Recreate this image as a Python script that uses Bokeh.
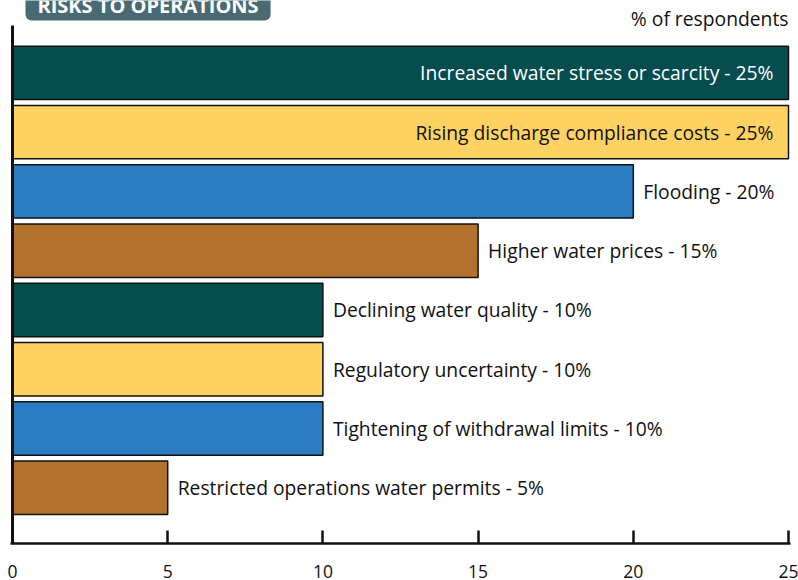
from bokeh.plotting import figure
from bokeh.models import ColumnDataSource, Label, FixedTicker, Range1d
from bokeh.core.properties import value
from bokeh.embed import file_html
from bokeh.resources import INLINE

categories = [
    "Increased water stress or scarcity",
    "Rising discharge compliance costs",
    "Flooding",
    "Higher water prices",
    "Declining water quality",
    "Regulatory uncertainty",
    "Tightening of withdrawal limits",
    "Restricted operations water permits",
]
values = [25, 25, 20, 15, 10, 10, 10, 5]
palette = ["#054d4f", "#fdd262", "#2a7dc2", "#b3722e"]
x_ticks = [0, 5, 10, 15, 20, 25]
x_max = 25

FONT = "Open Sans"
FS = "19.3px"
n = len(categories)
ys = [n - 1 - i for i in range(n)]
colors = [palette[i % 4] for i in range(n)]
labels = [f"{c} - {v}%" for c, v in zip(categories, values)]
inside = [v >= x_max for v in values]
align = ["right" if ins else "left" for ins in inside]
xoff = [-15 if ins else 10 for ins in inside]
tcol = []
for ins, c in zip(inside, colors):
    if ins:
        tcol.append("#ffffff" if c == palette[0] else "#111111")
    else:
        tcol.append("#111111")

src = ColumnDataSource(dict(y=ys, v=values, color=colors, label=labels,
                            align=align, xoff=xoff, tcol=tcol))

W, H = 798, 580
# layout in pixels
X0PX, X1PX = 12, 788          # where 0 and x_max sit
FL, FR = 10, 790              # frame left / right
FB = 543                      # frame bottom (frame top = 0)
xppu = (X1PX - X0PX) / x_max
Y0 = -0.94
yppu = 59.27
Ytop = Y0 + FB / yppu
Yaxis_top = Ytop - 25 / yppu

def px2x(px):
    return (px - X0PX) / xppu

def py2y(py):
    return Ytop - py / yppu

p = figure(width=W, height=H, output_backend="svg", toolbar_location=None,
           title=None,
           x_range=Range1d(px2x(FL), px2x(FR)), y_range=Range1d(Y0, Ytop),
           min_border_left=FL, min_border_right=W - FR, min_border_top=0,
           min_border_bottom=H - FB)
p.outline_line_color = None
p.grid.visible = False
p.background_fill_color = "white"
p.yaxis.visible = False

p.hbar(y="y", right="v", left=0, height=0.9, source=src, fill_color="color",
       line_color="#111111", line_width=1.5)
p.text(x="v", y="y", text="label", source=src, text_align="align",
       x_offset="xoff", text_baseline="middle", text_color="tcol",
       text_font=value(FONT), text_font_size=FS)

# left axis line
p.segment(x0=[0], x1=[0], y0=[Y0], y1=[Yaxis_top], line_color="#111111",
          line_width=3)

xa = p.xaxis[0]
xa.ticker = FixedTicker(ticks=x_ticks)
xa.axis_line_color = "#111111"
xa.axis_line_width = 2.5
xa.major_tick_line_color = "#111111"
xa.major_tick_line_width = 2.5
xa.major_tick_in = 13
xa.major_tick_out = 0
xa.minor_tick_line_color = None
xa.major_label_standoff = 21
xa.major_label_text_font = FONT
xa.major_label_text_font_size = "17.5px"
xa.major_label_text_color = "#111111"

p.add_layout(Label(x=x_max, y=py2y(18), text="% of respondents",
                   text_align="right", text_baseline="alphabetic",
                   text_font=FONT, text_font_size="19.3px",
                   text_color="#111111"))

p.add_layout(Label(x=px2x(25), y=py2y(4.5),
                   text="RISKS TO OPERATIONS", text_align="left",
                   text_baseline="alphabetic", text_font=FONT,
                   text_font_style="bold", text_font_size="20px",
                   text_color="white", background_fill_color="#486a72",
                   padding=(12, 2), border_radius=6))

open("out.html", "w").write(file_html(p, INLINE))
